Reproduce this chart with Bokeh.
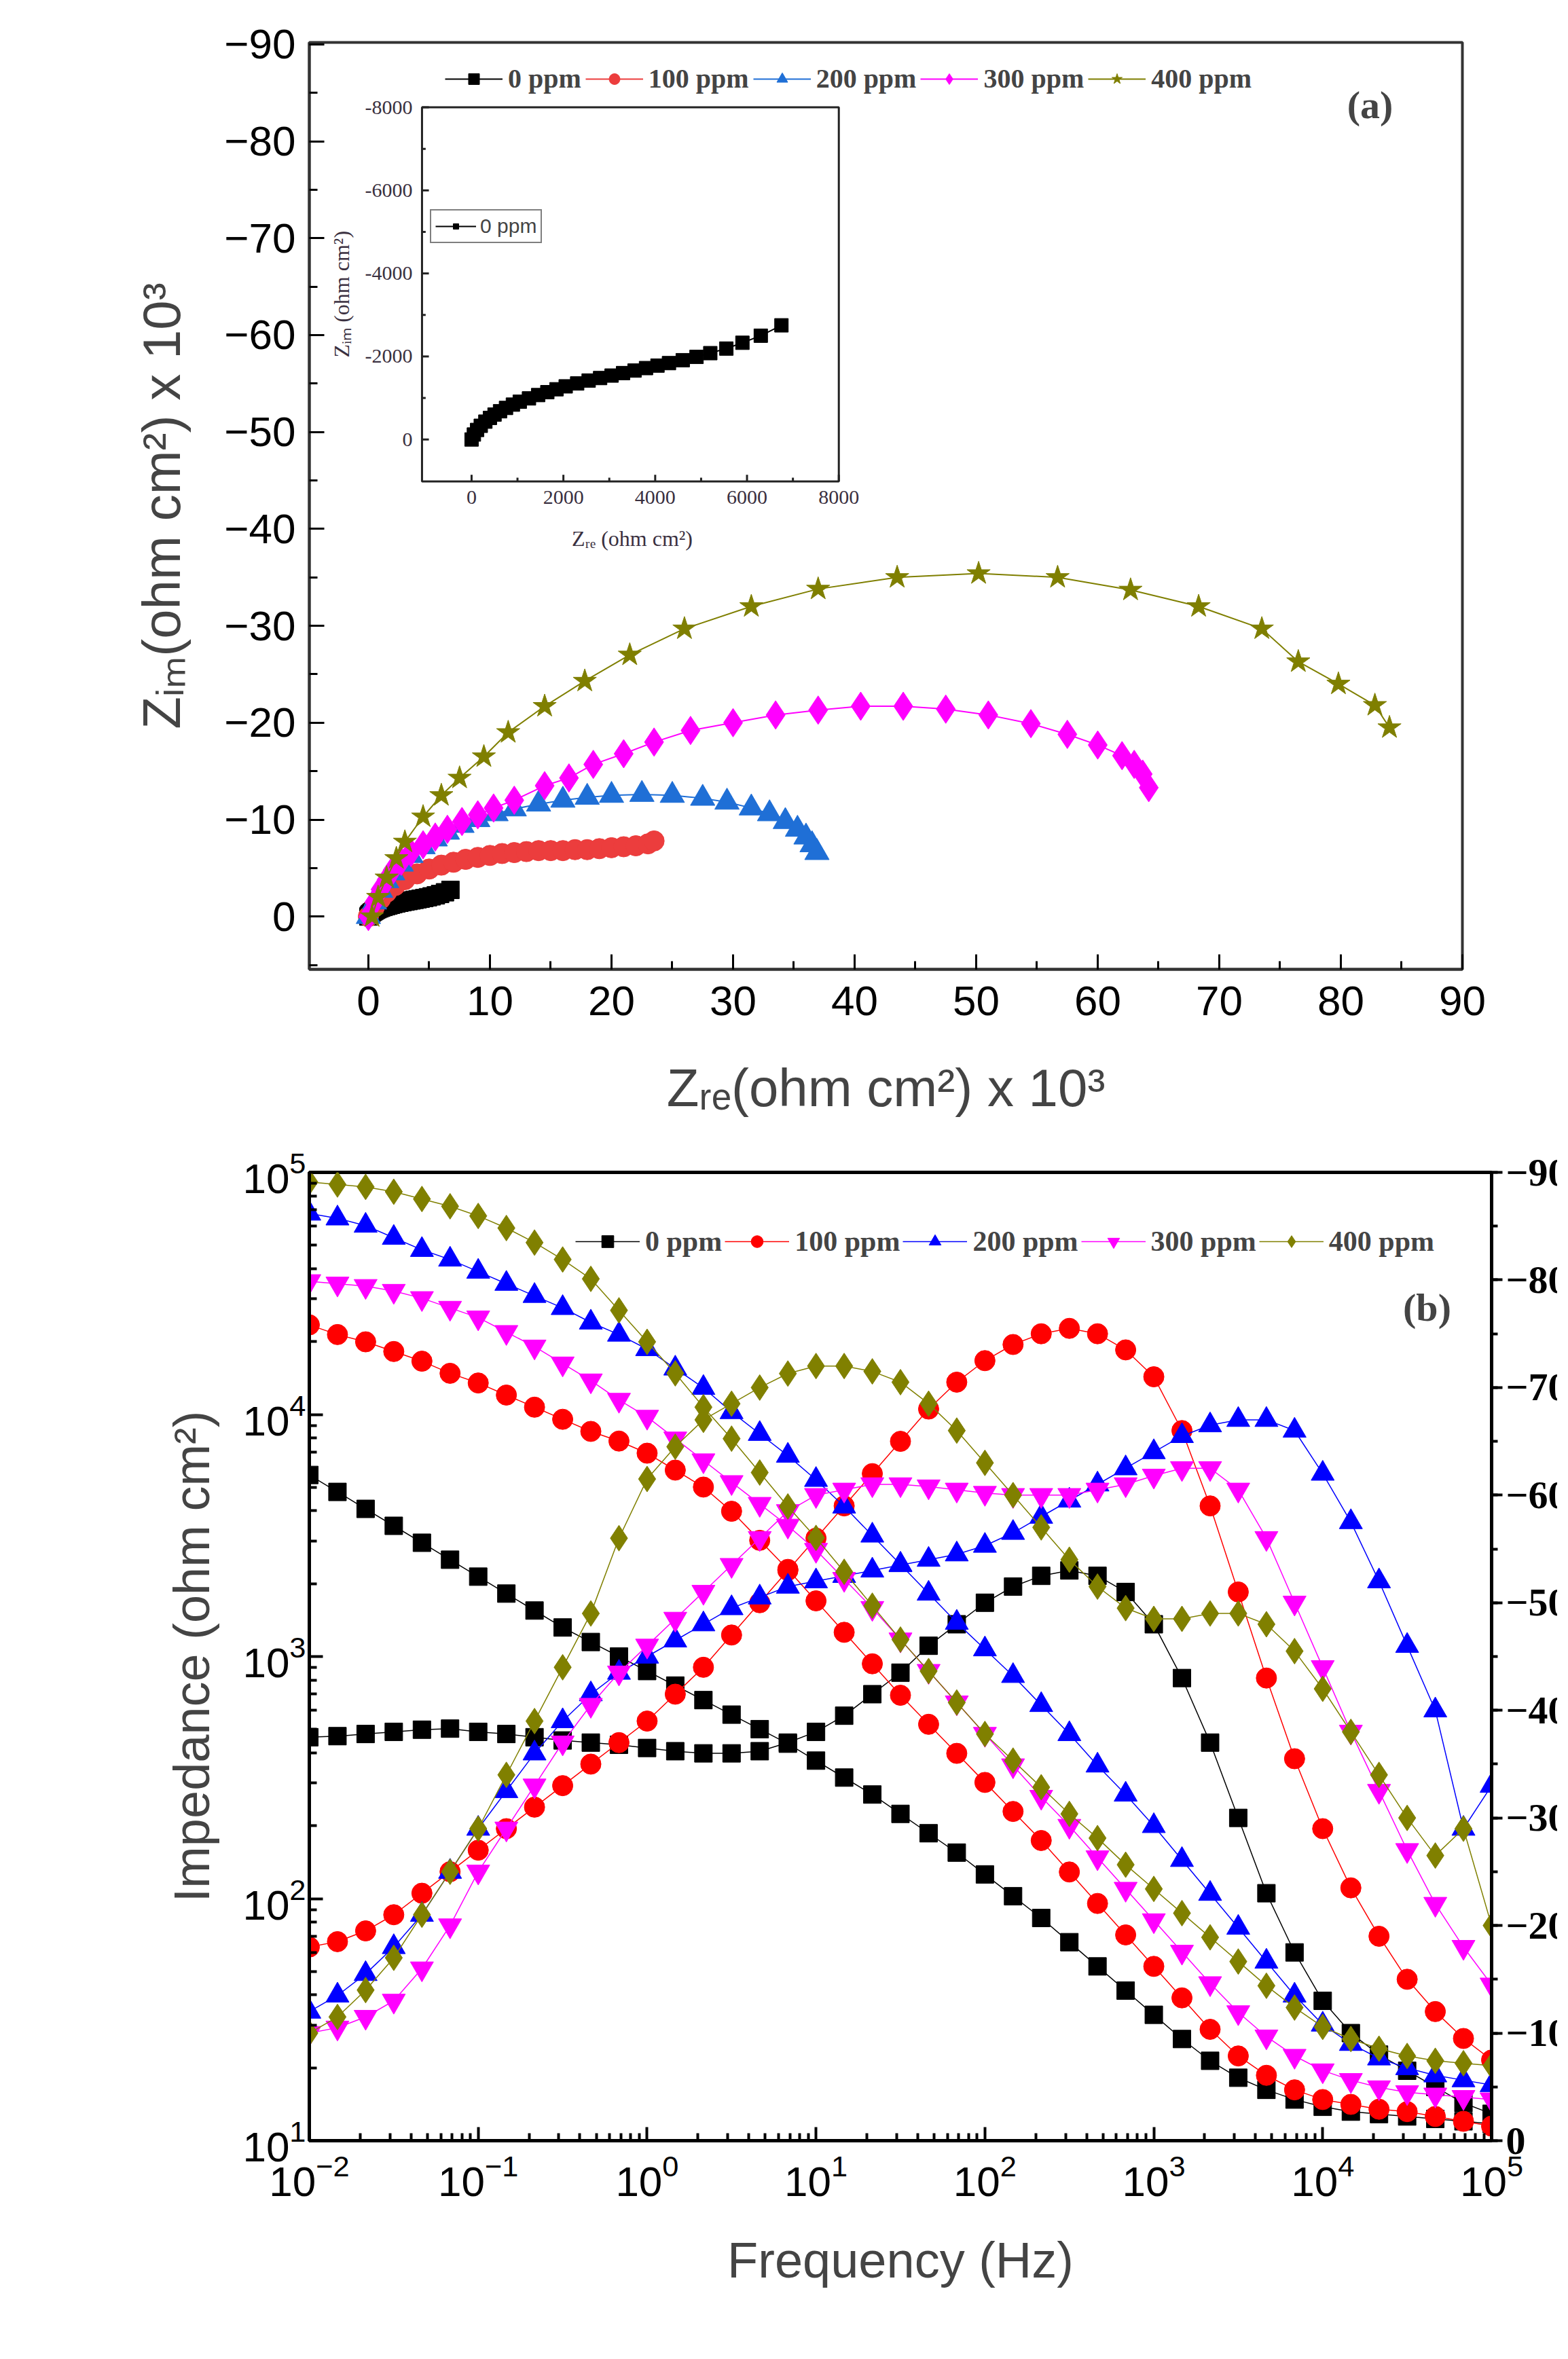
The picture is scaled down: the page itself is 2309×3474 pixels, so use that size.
import numpy as np
from bokeh.plotting import figure
from bokeh.layouts import column
from bokeh.models import (Range1d, LinearAxis, Legend, LegendItem, Label, LinearScale,
                          SingleIntervalTicker, FixedTicker)
from bokeh.embed import file_html
from bokeh.resources import INLINE

# ---------------- Nyquist data (kohm cm2) ----------------
zre_0_inset = [0, 50, 120, 200, 300, 400, 500, 620, 750, 900, 1050, 1250, 1450, 1650, 1850, 2050, 2300,
               2550, 2800, 3050, 3300, 3550, 3800, 4050, 4300, 4600, 4900, 5200, 5550, 5900, 6300, 6750]
zim_0_inset = [0, -120, -230, -330, -430, -520, -600, -680, -760, -840, -910, -990, -1070, -1140, -1210,
               -1280, -1350, -1420, -1480, -1540, -1600, -1660, -1720, -1780, -1840, -1910, -1990, -2080,
               -2190, -2330, -2500, -2750]

zre_100 = [0, 0.5, 1, 1.5, 2.2, 3, 4, 5, 6, 7, 8, 9, 10, 11, 12, 13, 14, 15, 16, 17, 18, 19, 20, 21, 22, 23, 23.5]
zim_100 = [0, -1, -1.8, -2.5, -3.2, -3.8, -4.4, -4.9, -5.3, -5.6, -5.9, -6.1, -6.3, -6.5, -6.6, -6.7, -6.8,
           -6.8, -6.8, -6.9, -6.9, -7.0, -7.1, -7.2, -7.3, -7.5, -7.8]
zre_200 = [0, 0.5, 1, 1.5, 2, 2.7, 3.5, 4.5, 5.5, 6.5, 7.7, 9, 10.5, 12, 14, 16, 18, 20, 22.5, 25, 27.5,
           29.5, 31.5, 33, 34.3, 35.3, 36, 36.5, 36.9]
zim_200 = [0, -1.5, -2.7, -3.7, -4.5, -5.4, -6.3, -7.2, -8, -8.7, -9.4, -10, -10.6, -11.1, -11.6, -12,
           -12.3, -12.5, -12.6, -12.5, -12.2, -11.8, -11.2, -10.6, -9.8, -9, -8.2, -7.4, -6.6]
zre_300 = [0, 0.5, 1, 1.5, 2, 2.7, 3.5, 4.5, 5.5, 6.5, 7.7, 9, 10.3, 12, 14.5, 16.5, 18.5, 21, 23.5, 26.5,
           30, 33.5, 37, 40.5, 44, 47.5, 51, 54.5, 57.5, 60, 62, 63, 63.7, 64.2]
zim_300 = [0, -1.5, -2.8, -3.8, -4.8, -5.7, -6.6, -7.4, -8.2, -9, -9.8, -10.5, -11.2, -12, -13.5, -14.3,
           -15.7, -16.8, -18, -19.2, -20, -20.8, -21.3, -21.7, -21.7, -21.4, -20.8, -19.9, -18.8, -17.7,
           -16.6, -15.7, -14.7, -13.3]
zre_400 = [0.3, 0.8, 1.5, 2.3, 3, 4.5, 6, 7.5, 9.5, 11.5, 14.5, 17.8, 21.5, 26, 31.5, 37, 43.5, 50.2,
           56.7, 62.7, 68.3, 73.5, 76.5, 79.8, 82.8, 84]
zim_400 = [0, -2, -4, -6, -7.7, -10.3, -12.5, -14.3, -16.5, -19, -21.7, -24.3, -27, -29.7, -32, -33.8,
           -35, -35.4, -35, -33.7, -32, -29.7, -26.3, -24, -21.8, -19.5]

inset_xticks = [0, 2000, 4000, 6000, 8000]
inset_yticks = [0, -2000, -4000, -6000, -8000]

# ---------------- Bode data ----------------
freq = np.logspace(-2, 5, 43)  # 6 points per decade
logz_0 = [3.75, 3.68, 3.61, 3.54, 3.47, 3.40, 3.33, 3.26, 3.19, 3.12, 3.06, 3.00, 2.94, 2.88, 2.82, 2.76,
          2.70, 2.64, 2.57, 2.50, 2.43, 2.35, 2.27, 2.19, 2.10, 2.01, 1.92, 1.82, 1.72, 1.62, 1.52, 1.42,
          1.33, 1.26, 1.21, 1.17, 1.14, 1.12, 1.11, 1.10, 1.09, 1.08, 1.07]
logz_100 = [4.37, 4.33, 4.30, 4.26, 4.22, 4.17, 4.13, 4.08, 4.03, 3.98, 3.93, 3.89, 3.84, 3.77, 3.70,
            3.60, 3.48, 3.36, 3.23, 3.10, 2.97, 2.84, 2.72, 2.60, 2.48, 2.36, 2.24, 2.11, 1.98, 1.85,
            1.72, 1.59, 1.46, 1.35, 1.27, 1.21, 1.17, 1.15, 1.13, 1.12, 1.10, 1.08, 1.06]
logz_200 = [4.83, 4.81, 4.78, 4.73, 4.68, 4.64, 4.59, 4.54, 4.49, 4.44, 4.38, 4.33, 4.27, 4.19, 4.11,
            4.01, 3.92, 3.83, 3.73, 3.62, 3.50, 3.38, 3.26, 3.14, 3.03, 2.92, 2.80, 2.68, 2.55, 2.43,
            2.30, 2.16, 2.02, 1.88, 1.74, 1.60, 1.48, 1.40, 1.34, 1.30, 1.27, 1.25, 1.23]
logz_300 = [4.55, 4.54, 4.53, 4.51, 4.48, 4.44, 4.40, 4.34, 4.28, 4.21, 4.14, 4.06, 3.99, 3.90, 3.81,
            3.72, 3.63, 3.54, 3.44, 3.32, 3.20, 3.07, 2.94, 2.81, 2.68, 2.55, 2.42, 2.30, 2.17, 2.04,
            1.91, 1.78, 1.65, 1.53, 1.43, 1.35, 1.29, 1.25, 1.22, 1.20, 1.19, 1.18, 1.17]
logz_400 = [4.96, 4.95, 4.94, 4.92, 4.89, 4.86, 4.82, 4.77, 4.71, 4.64, 4.56, 4.43, 4.30, 4.17, 4.03,
            3.90, 3.76, 3.62, 3.49, 3.35, 3.21, 3.07, 2.94, 2.81, 2.68, 2.57, 2.46, 2.35, 2.25, 2.14,
            2.04, 1.94, 1.84, 1.74, 1.64, 1.55, 1.47, 1.42, 1.38, 1.35, 1.33, 1.32, 1.31]

ph_0 = [-37.5, -37.6, -37.8, -38, -38.2, -38.3, -38, -37.8, -37.5, -37.2, -37, -36.8, -36.5, -36.2, -36,
        -36, -36.2, -37, -38, -39.5, -41.5, -43.5, -46, -48, -50, -51.5, -52.5, -53, -52.5, -51, -48,
        -43, -37, -30, -23, -17.5, -13, -10, -8, -6.5, -5, -3.5, -2.5]
ph_100 = [-18, -18.5, -19.5, -21, -23, -25, -27, -29, -31, -33, -35, -37, -39, -41.5, -44, -47, -50, -53,
          -56, -59, -62, -65, -68, -70.5, -72.5, -74, -75, -75.5, -75, -73.5, -71, -66, -59, -51, -43,
          -35.5, -29, -23.5, -19, -15, -12, -9.5, -7.5]
ph_200 = [-12, -13.5, -15.5, -18, -21, -25, -29, -32.5, -36, -39, -41.5, -43.5, -45, -46.5, -48, -49.5,
          -50.5, -51.5, -52, -52.5, -53, -53.5, -54, -54.5, -55.3, -56.5, -58, -59.5, -61, -62.5, -64,
          -65.5, -66.5, -67, -67, -66, -62, -57.5, -52, -46, -40, -29, -33]
ph_300 = [-10, -10.5, -11.5, -13, -16, -20, -25, -29, -33, -37, -40.5, -43.5, -46, -48.5, -51, -53.5, -56,
          -58.5, -60, -60.5, -61, -61, -60.8, -60.5, -60.2, -60, -60, -60, -60.5, -61, -61.8, -62.5,
          -62.5, -60.5, -56, -50, -44, -38, -32.5, -27, -22, -18, -14.5]
ph_400 = [-10, -11.5, -14, -17, -21, -25, -29, -34, -39, -44, -49, -56, -61.5, -64.5, -67, -68.5, -70,
          -71.3, -72, -72, -71.5, -70.5, -68.5, -66, -63, -60, -57, -54, -51.5, -49.5, -48.5, -48.5,
          -49, -49, -48, -45.5, -42, -38, -34, -30, -26.5, -29, -20]

labels = ["0 ppm", "100 ppm", "200 ppm", "300 ppm", "400 ppm"]

SANS = "Liberation Sans"
SERIF = "Liberation Serif"

# ================= (a) Nyquist =================
pa = figure(frame_width=1698, frame_height=1365, min_border_left=455, min_border_right=132,
            min_border_top=62, min_border_bottom=230,
            x_range=Range1d(-4.86, 90), y_range=Range1d(5.45, -90.2),
            output_backend="svg", toolbar_location=None)
pa.grid.visible = False
pa.outline_line_color = "#333333"
pa.outline_line_width = 4
for ax in (pa.xaxis[0], pa.yaxis[0]):
    ax.axis_line_width = 4
    ax.axis_line_color = "#333333"
    ax.major_tick_in = 22
    ax.major_tick_out = 0
    ax.minor_tick_in = 12
    ax.minor_tick_out = 0
    ax.major_tick_line_width = 3
    ax.minor_tick_line_width = 3
    ax.major_label_text_font = SANS
    ax.major_label_text_font_size = "62px"
    ax.major_label_text_color = "black"
    ax.axis_label_text_font = SANS
    ax.axis_label_text_font_size = "78px"
    ax.axis_label_text_font_style = "normal"
pa.xaxis.ticker = SingleIntervalTicker(interval=10, num_minor_ticks=2)
pa.yaxis.ticker = SingleIntervalTicker(interval=10, num_minor_ticks=2)
pa.xaxis.axis_label = "Zᵣₑ(ohm cm²) x 10³"
pa.yaxis.axis_label = "Zᵢₘ(ohm cm²) x 10³"
pa.xaxis.major_label_standoff = 25
pa.yaxis.major_label_standoff = 20
pa.xaxis.axis_label_standoff = 60
pa.yaxis.axis_label_standoff = 45

zre_0 = [v / 1000 for v in zre_0_inset]
zim_0 = [v / 1000 for v in zim_0_inset]
col_a = ["black", "#ec3d3d", "#1f6fd6", "#ff00ff", "#7f7f00"]
mk_a = ["square", "circle", "triangle", "diamond", "star"]
sz_a = [26, 30, 36, 42, 36]
series_a = [(zre_0, zim_0), (zre_100, zim_100), (zre_200, zim_200), (zre_300, zim_300), (zre_400, zim_400)]
items_a = []
for (xs, ys), c, m, s, lab in zip(series_a, col_a, mk_a, sz_a, labels):
    l = pa.line(xs, ys, line_color=c, line_width=2)
    r = pa.scatter(xs, ys, marker=m, size=s, fill_color=c, line_color=c)
    items_a.append(LegendItem(label=lab, renderers=[l, r]))
leg_a = Legend(items=items_a, orientation="horizontal", location=(200, 1288),
               background_fill_alpha=0, border_line_alpha=0, label_text_font=SERIF,
               label_text_font_style="bold", label_text_font_size="40px", glyph_width=85,
               glyph_height=40, spacing=6, padding=0, label_standoff=8, margin=0)
pa.add_layout(leg_a)
pa.add_layout(Label(x=1562, y=1273, x_units="screen", y_units="screen", text="(a)",
                    text_font=SERIF, text_font_style="bold", text_font_size="58px",
                    text_align="center", text_baseline="middle"))

# ----- inset -----
X0, X1, Y0, Y1 = -1080, 8000, 1010, -8000
sub = pa.subplot(x_source=Range1d(X0, X1), y_source=Range1d(Y0, Y1),
                 x_target=Range1d(4.41, 38.7), y_target=Range1d(-44.9, -83.5))
sub.quad(left=[X0], right=[X1], bottom=[Y0], top=[Y1], fill_color="white",
         line_color="#222222", line_width=3)
xt_minor = [1000, 3000, 5000, 7000]
yt_minor = [-1000, -3000, -5000, -7000]
sub.segment(x0=inset_xticks, y0=[Y0] * 5, x1=inset_xticks, y1=[Y0 - 160] * 5, line_color="#222222", line_width=3)
sub.segment(x0=xt_minor, y0=[Y0] * 4, x1=xt_minor, y1=[Y0 - 90] * 4, line_color="#222222", line_width=3)
sub.segment(x0=[X0] * 5, y0=inset_yticks, x1=[X0 + 150] * 5, y1=inset_yticks, line_color="#222222", line_width=3)
sub.segment(x0=[X0] * 4, y0=yt_minor, x1=[X0 + 80] * 4, y1=yt_minor, line_color="#222222", line_width=3)
sub.text(x=inset_xticks, y=[Y0] * 5, text=[str(v) for v in inset_xticks], text_align="center",
         text_baseline="top", y_offset=14, text_font_size="30px", text_color="#3a3040",
         text_font=SANS)
sub.text(x=[X0] * 5, y=inset_yticks, text=[str(v) for v in inset_yticks], text_align="right",
         text_baseline="middle", x_offset=-14, text_font_size="30px", text_color="#3a3040",
         text_font=SANS)
sub.text(x=[3500], y=[Y0], text=["Zᵣₑ (ohm cm²)"], text_align="center", text_baseline="top",
         y_offset=66, text_font_size="32px", text_color="#3a3040", text_font=SANS)
sub.text(x=[X0], y=[-3500], text=["Zᵢₘ (ohm cm²)"], text_align="center", text_baseline="bottom",
         x_offset=-100, angle=np.pi / 2, text_font_size="32px", text_color="#3a3040",
         text_font=SANS)
il = sub.line(zre_0_inset, zim_0_inset, line_color="black", line_width=2)
isc = sub.scatter(zre_0_inset, zim_0_inset, marker="square", size=20, fill_color="black", line_color="black")
leg_i = Legend(items=[LegendItem(label="0 ppm", renderers=[il, isc])], location=(178, 1069),
               background_fill_color="white", border_line_color="black", border_line_width=2,
               label_text_font=SANS, label_text_font_size="30px",
               glyph_width=60, padding=6, margin=0, label_standoff=6)
pa.add_layout(leg_i)

# ================= (b) Bode =================
pb = figure(frame_width=1741, frame_height=1426, min_border_left=277, min_border_right=275,
            min_border_top=69, min_border_bottom=240,
            x_axis_type="log", y_axis_type="log",
            x_range=Range1d(1e-2, 1e5), y_range=Range1d(10, 1e5),
            output_backend="svg", toolbar_location=None)
pb.grid.visible = False
pb.outline_line_color = "black"
pb.outline_line_width = 5
pb.extra_y_ranges = {"phase": Range1d(0, -90)}
pb.extra_y_scales = {"phase": LinearScale()}
rax = LinearAxis(y_range_name="phase", ticker=SingleIntervalTicker(interval=10, num_minor_ticks=2))
pb.add_layout(rax, "right")
decades = [1e-2, 1e-1, 1, 1e1, 1e2, 1e3, 1e4, 1e5]
minors = [d * k for d in decades[:-1] for k in range(2, 10)]
pb.xaxis[0].ticker = FixedTicker(ticks=decades, minor_ticks=minors)
ydec = [1e1, 1e2, 1e3, 1e4, 1e5]
pb.yaxis[0].ticker = FixedTicker(ticks=ydec, minor_ticks=[d * k for d in ydec[:-1] for k in range(2, 10)])
for ax in (pb.xaxis[0], pb.yaxis[0], rax):
    ax.axis_line_width = 5
    ax.axis_line_color = "black"
    ax.major_tick_in = 20
    ax.major_tick_out = 0
    ax.minor_tick_in = 11
    ax.minor_tick_out = 0
    ax.major_tick_line_width = 4
    ax.minor_tick_line_width = 4
    ax.major_label_text_font = SANS
    ax.major_label_text_font_size = "62px"
    ax.major_label_text_color = "black"
    ax.axis_label_text_font = SANS
    ax.axis_label_text_font_size = "74px"
    ax.axis_label_text_font_style = "normal"
rax.major_tick_in = 0
rax.major_tick_out = 16
rax.minor_tick_in = 0
rax.minor_tick_out = 9
rax.major_label_text_font = SERIF
rax.major_label_text_font_style = "bold"
rax.major_label_text_font_size = "58px"
pb.xaxis.axis_label = "Frequency (Hz)"
pb.yaxis[0].axis_label = "Impedance (ohm cm²)"
rax.axis_label = "Phase angle (°)"
pb.xaxis.major_label_standoff = 20
pb.xaxis.axis_label_standoff = 50
pb.yaxis[0].axis_label_standoff = 30
rax.axis_label_standoff = 30

col_b = ["black", "#ff0000", "#0000ff", "#ff00ff", "#808000"]
mk_b = ["square", "circle", "triangle", "inverted_triangle", "diamond"]
sz_b = [26, 30, 34, 34, 38]
logz = [logz_0, logz_100, logz_200, logz_300, logz_400]
phs = [ph_0, ph_100, ph_200, ph_300, ph_400]
items_b = []
for lz, ph, c, m, s, lab in zip(logz, phs, col_b, mk_b, sz_b, labels):
    zv = [10 ** v for v in lz]
    l1 = pb.line(freq, zv, line_color=c, line_width=1.5)
    r1 = pb.scatter(freq, zv, marker=m, size=s, fill_color=c, line_color=c)
    pb.line(freq, ph, line_color=c, line_width=1.5, y_range_name="phase")
    pb.scatter(freq, ph, marker=m, size=s, fill_color=c, line_color=c, y_range_name="phase")
    items_b.append(LegendItem(label=lab, renderers=[l1, r1]))
leg_b = Legend(items=items_b, orientation="horizontal", location=(392, 1300),
               background_fill_alpha=0, border_line_alpha=0, label_text_font=SERIF,
               label_text_font_style="bold", label_text_font_size="42px", glyph_width=95,
               glyph_height=44, spacing=4, padding=0, label_standoff=8, margin=0)
pb.add_layout(leg_b)
pb.add_layout(Label(x=1646, y=1227, x_units="screen", y_units="screen", text="(b)",
                    text_font=SERIF, text_font_style="bold", text_font_size="58px",
                    text_align="center", text_baseline="middle"))

page = column(pa, pb, spacing=0)
open("out.html", "w").write(file_html(page, INLINE))
